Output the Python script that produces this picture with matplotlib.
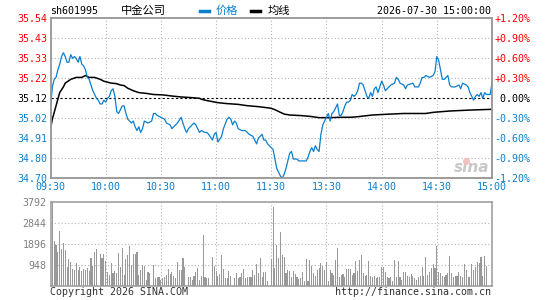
import numpy as np
import matplotlib
matplotlib.use('Agg')
import matplotlib.pyplot as plt
from matplotlib.lines import Line2D

# --- intraday data (minute index 0..240, 120 = 11:30/13:00) ---
prev_close = 35.12

price_min = [0, 1, 2, 3, 4, 5, 6, 7, 8, 9,
             10, 11, 12, 13, 14, 15, 16, 17, 18, 19,
             20, 21, 22, 23, 24, 25, 26, 27, 28, 29,
             30, 31, 32, 33, 34, 35, 36, 37, 38, 39,
             40, 41, 42, 44, 45, 46, 47, 48, 49, 50,
             51, 53, 55, 56, 57, 58, 60, 62, 63, 65,
             66, 67, 69, 71, 72, 73, 74, 75, 77, 78,
             79, 80, 81, 82, 84, 85, 86, 88, 89, 90,
             91, 93, 94, 96, 97, 98, 99, 100, 101, 102,
             104, 106, 107, 108, 110, 112, 113, 115, 116, 117,
             118, 119, 120, 121, 122, 123, 124, 125, 126, 127,
             128, 129, 130, 131, 132, 134, 135, 137, 139, 140,
             141, 142, 143, 144, 145, 146, 147, 148, 149, 150,
             151, 152, 153, 154, 155, 156, 157, 158, 159, 160,
             161, 162, 163, 164, 165, 166, 167, 168, 169, 170,
             171, 172, 173, 174, 175, 176, 177, 178, 179, 180,
             181, 182, 184, 185, 187, 188, 189, 190, 192, 193,
             194, 197, 198, 200, 201, 202, 203, 204, 206, 208,
             209, 210, 211, 212, 213, 214, 215, 216, 217, 218,
             220, 222, 223, 224, 226, 227, 228, 229, 230, 231,
             232, 233, 234, 235, 236, 237, 239, 240]
price_val = [35.07, 35.18, 35.22, 35.23, 35.27, 35.30, 35.34, 35.36, 35.34, 35.31,
             35.31, 35.35, 35.33, 35.34, 35.33, 35.31, 35.34, 35.30, 35.29, 35.27,
             35.23, 35.22, 35.19, 35.16, 35.14, 35.12, 35.11, 35.09, 35.09, 35.11,
             35.10, 35.12, 35.13, 35.16, 35.17, 35.13, 35.05, 35.04, 35.06, 35.08,
             35.08, 35.04, 35.01, 34.99, 35.00, 34.97, 34.95, 34.97, 34.94, 34.96,
             35.00, 34.99, 35.00, 35.04, 35.04, 35.03, 35.02, 35.01, 34.99, 34.98,
             34.96, 34.97, 34.99, 35.02, 34.99, 34.96, 34.94, 34.96, 34.98, 34.99,
             34.98, 34.96, 34.94, 34.95, 34.94, 34.94, 34.93, 34.90, 34.93, 34.94,
             34.89, 34.92, 34.96, 35.01, 35.02, 35.01, 34.98, 35.00, 34.99, 34.96,
             34.95, 34.95, 34.94, 34.93, 34.92, 34.88, 34.91, 34.93, 34.90, 34.90,
             34.88, 34.87, 34.86, 34.85, 34.80, 34.75, 34.73, 34.71, 34.70, 34.72,
             34.75, 34.79, 34.83, 34.84, 34.80, 34.80, 34.79, 34.79, 34.79, 34.81,
             34.84, 34.86, 34.84, 34.87, 34.85, 34.84, 34.93, 34.98, 35.00, 35.02,
             35.04, 35.00, 35.04, 35.05, 35.07, 35.09, 35.03, 35.03, 35.05, 35.08,
             35.10, 35.10, 35.11, 35.14, 35.13, 35.14, 35.16, 35.20, 35.20, 35.19,
             35.16, 35.13, 35.12, 35.15, 35.13, 35.17, 35.18, 35.15, 35.18, 35.21,
             35.19, 35.16, 35.18, 35.19, 35.20, 35.23, 35.22, 35.20, 35.19, 35.17,
             35.19, 35.20, 35.18, 35.18, 35.20, 35.23, 35.23, 35.24, 35.23, 35.24,
             35.26, 35.34, 35.32, 35.27, 35.22, 35.22, 35.23, 35.24, 35.19, 35.18,
             35.18, 35.19, 35.17, 35.20, 35.19, 35.18, 35.15, 35.13, 35.11, 35.13,
             35.14, 35.13, 35.15, 35.12, 35.15, 35.14, 35.14, 35.20]

avg_min = [0, 1, 3, 5, 7, 8, 11, 14, 17, 19,
           21, 24, 27, 29, 33, 36, 38, 40, 42, 45,
           48, 52, 56, 61, 66, 71, 76, 81, 82, 85,
           91, 96, 102, 107, 113, 118, 120, 122, 125, 127,
           130, 136, 141, 146, 152, 157, 163, 167, 175, 183,
           192, 204, 208, 217, 228, 240]
avg_val = [34.96, 35.01, 35.08, 35.15, 35.18, 35.20, 35.22, 35.23, 35.23, 35.24,
           35.23, 35.23, 35.22, 35.21, 35.20, 35.197, 35.19, 35.187, 35.173, 35.16,
           35.15, 35.146, 35.14, 35.138, 35.132, 35.127, 35.124, 35.12, 35.115, 35.108,
           35.097, 35.092, 35.088, 35.081, 35.076, 35.07, 35.067, 35.06, 35.046, 35.037,
           35.032, 35.029, 35.025, 35.018, 35.018, 35.02, 35.02, 35.023, 35.032, 35.036,
           35.04, 35.04, 35.046, 35.053, 35.058, 35.062]

vol_am_min = [0, 1, 2, 3, 4, 5, 6, 7, 8, 9,
              10, 11, 12, 13, 14, 15, 16, 17, 18, 19,
              20, 21, 22, 23, 24, 25, 27, 28, 29, 30,
              31, 32, 33, 34, 35, 36, 37, 38, 39, 40,
              41, 42, 43, 44, 45, 46, 47, 48, 49, 50,
              51, 52, 53, 54, 56, 57, 58, 59, 60, 61,
              62, 63, 64, 65, 66, 67, 68, 69, 70, 71,
              72, 73, 75, 76, 77, 78, 79, 80, 81, 82,
              83, 84, 85, 86, 88, 89, 90, 91, 92, 93,
              94, 95, 96, 97, 98, 100, 101, 102, 103, 104,
              105, 106, 107, 108, 109, 110, 111, 112, 113, 114,
              115, 116, 117, 118, 120]
vol_am = [1110, 3792, 2020, 1840, 1540, 2470, 1660, 1910, 1610, 830,
          1200, 1080, 750, 710, 1020, 710, 830, 680, 740, 710,
          780, 680, 1230, 890, 1540, 1640, 1430, 1230, 1430, 1130,
          630, 480, 1010, 560, 680, 560, 1490, 860, 1690, 480,
          1200, 1380, 1790, 930, 1430, 1430, 1540, 480, 710, 930,
          890, 260, 630, 590, 930, 330, 380, 410, 260, 330,
          410, 480, 750, 530, 630, 440, 330, 1080, 710, 710,
          1230, 860, 380, 380, 260, 440, 630, 780, 260, 440,
          2290, 380, 330, 330, 1310, 890, 660, 440, 530, 1380,
          750, 330, 330, 660, 450, 330, 590, 330, 380, 560,
          750, 330, 380, 380, 380, 710, 480, 980, 590, 1230,
          410, 630, 630, 230, 1200]
# afternoon bars, one per minute from 121
vol_pm = [3570, 780, 1840, 1230, 2440, 1380, 1310, 590, 710, 680,
          380, 660, 530, 380, 290, 330, 630, 230, 1200, 230,
          1160, 890, 590, 440, 710, 810, 1010, 890, 710, 1080,
          230, 710, 560, 480, 1160, 1690, 380, 480, 530, 380,
          750, 750, 750, 480, 560, 1130, 680, 1160, 1380, 590,
          440, 480, 1130, 440, 380, 440, 330, 380, 380, 860,
          830, 630, 380, 330, 380, 230, 1160, 380, 1130, 380,
          260, 630, 630, 440, 380, 530, 440, 330, 260, 380,
          440, 830, 440, 1310, 480, 630, 780, 980, 780, 1790,
          630, 560, 440, 380, 480, 590, 1350, 590, 380, 440,
          440, 630, 440, 380, 980, 710, 410, 410, 980, 710,
          830, 1080, 1010, 1310, 440, 1340, 890]

price_labels = ['34.70', '34.80', '34.91', '35.02', '35.12', '35.22', '35.33', '35.43', '35.54']
pct_labels = ['-1.20%', '-0.90%', '-0.60%', '-0.30%', ' 0.00%', '+0.30%', '+0.60%', '+0.90%', '+1.20%']
time_labels = ['09:30', '10:00', '10:30', '11:00', '11:30', '13:30', '14:00', '14:30', '15:00']
vol_ticks = [948, 1896, 2844, 3792]

BLUE = '#0b7fce'
RED = '#ff0000'
GRID = '#b4b4b4'
FRAME = '#999999'
MONO = 'DejaVu Sans Mono'
FS = 7.2

W, H = 545, 300
fig = plt.figure(figsize=(W / 100, H / 100), dpi=100)
ax = fig.add_axes([50.5 / W, 1 - 178.3 / H, 441.5 / W, 160 / H])
axv = fig.add_axes([50.5 / W, 1 - 285.7 / H, 441.5 / W, 84 / H])

levels = [prev_close * (1 + 0.003 * k) for k in range(-4, 5)]
lab_colors = [BLUE] * 4 + ['black'] + [RED] * 4

for a in (ax, axv):
    a.set_xlim(0, 240)
    for s in a.spines.values():
        s.set_color(FRAME)
        s.set_linewidth(1.1)
    a.tick_params(length=0)
    for m in [30, 60, 90, 120, 150, 180, 210]:
        a.axvline(m, color=GRID, lw=0.8, ls=(0, (1, 2)), zorder=0)

# ---- price panel ----
ax.set_ylim(levels[0], levels[-1])
for lv in levels[1:4] + levels[5:8]:
    ax.axhline(lv, color=GRID, lw=0.8, ls=(0, (1, 2)), zorder=0)
ax.axhline(prev_close, color='black', lw=0.8, ls=(0, (2, 2)), zorder=1)

ax.plot(price_min, price_val, color=BLUE, lw=0.9, zorder=3)
ax.plot(avg_min, avg_val, color='black', lw=1.1, zorder=2)

ax.set_yticks(levels)
ax.set_yticklabels(price_labels, fontfamily=MONO, fontsize=FS)
for lbl, c in zip(ax.get_yticklabels(), lab_colors):
    lbl.set_color(c)
ax.tick_params(axis='y', pad=2.5)

ax.set_xticks(range(0, 241, 30))
ax.set_xticklabels(time_labels, fontfamily=MONO, fontsize=FS, color=BLUE)
ax.tick_params(axis='x', pad=3)

ax2 = ax.twinx()
ax2.set_ylim(levels[0], levels[-1])
ax2.set_yticks(levels)
ax2.set_yticklabels(pct_labels, fontfamily=MONO, fontsize=FS)
for lbl, c in zip(ax2.get_yticklabels(), lab_colors):
    lbl.set_color(c)
ax2.tick_params(length=0, pad=1.5)
for s in ax2.spines.values():
    s.set_color(FRAME)
    s.set_linewidth(1.1)

# watermark
ax.text(229, 34.755, 'sina', fontsize=11, fontweight='bold', fontstyle='italic',
        color='#c8c8c8', ha='center', va='center', zorder=1)
ax.plot([226], [34.79], 'o', ms=5, color='#f3c0c0', mec='none', zorder=1)

# ---- volume panel ----
axv.set_ylim(0, 3792)
for v in vol_ticks[:-1]:
    axv.axhline(v, color=GRID, lw=0.8, ls=(0, (1, 2)), zorder=0)
axv.bar(vol_am_min, vol_am, width=0.6, color='#999999', linewidth=0,
        antialiased=False, zorder=2)
axv.bar(np.arange(121, 121 + len(vol_pm)), vol_pm, width=0.6, color='#999999',
        linewidth=0, antialiased=False, zorder=2)
axv.set_xticks([])
axv.set_yticks(vol_ticks)
axv.set_yticklabels([str(v) for v in vol_ticks], fontfamily=MONO, fontsize=FS, color='#808080')
axv.tick_params(axis='y', pad=3)

# ---- header / footer text ----
ty = 1 - 11 / H
fig.text(50 / W, ty, 'sh601995', fontfamily=MONO, fontsize=FS, ha='left', va='center')
cjk = ['Noto Sans CJK SC', 'DejaVu Sans']
fig.text(120.5 / W, ty, '中金公司', family=cjk, fontsize=8.1, ha='left', va='center')
fig.add_artist(Line2D([200 / W, 209 / W], [ty, ty], lw=2.5, color=BLUE))
fig.text(215.5 / W, ty, '价格', family=cjk, fontsize=8.1, ha='left', va='center', color=BLUE)
fig.add_artist(Line2D([251 / W, 260 / W], [ty, ty], lw=2.5, color='black'))
fig.text(267.5 / W, ty, '均线', family=cjk, fontsize=8.1, ha='left', va='center')
fig.text(491 / W, ty, '2026-07-30 15:00:00', fontfamily=MONO, fontsize=FS, ha='right', va='center')

fy = 1 - 291.7 / H
fig.text(50 / W, fy, 'Copyright 2026 SINA.COM', fontfamily=MONO, fontsize=FS,
         ha='left', va='center', color='#333333')
fig.text(491 / W, fy, 'http://finance.sina.com.cn', fontfamily=MONO, fontsize=FS,
         ha='right', va='center', color='#333333')

fig.savefig('out.png', dpi=100)
plt.close()
